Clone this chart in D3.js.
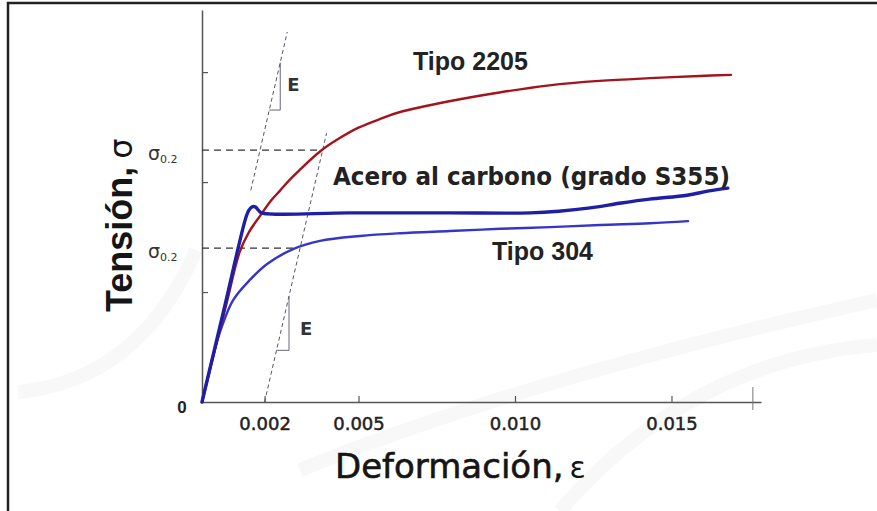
<!DOCTYPE html>
<html>
<head>
<meta charset="utf-8">
<script src="https://cdn.jsdelivr.net/npm/d3@7"></script>
<style>
  body { margin: 0; background: #fff; }
  svg { display: block; }
</style>
</head>
<body>
<div class="chart"></div>
<script>
// stress-strain curves, strain (-) and stress (MPa)
const strain2205 = [0, 0.0004, 0.0008, 0.0012, 0.0015, 0.00185, 0.0022, 0.0025, 0.0028, 0.0031, 0.0038, 0.0044, 0.005, 0.0057, 0.0063, 0.0079, 0.0095, 0.0111, 0.0127, 0.0143, 0.0159, 0.0169];
const stress2205 = [0, 92, 183, 272, 309, 338, 366, 385, 404, 421, 457, 480, 499, 515, 527, 547, 563, 576, 584, 589, 593, 595];

const strainS355 = [0, 0.0007, 0.0014, 0.0015, 0.0016, 0.0017, 0.0018, 0.0019, 0.0047, 0.0079, 0.0105, 0.0114, 0.0124, 0.0134, 0.0143, 0.0155, 0.0162, 0.0168];
const stressS355 = [0, 168, 335, 349, 355, 355, 349, 344, 344, 344, 344, 347, 353, 362, 369, 376, 384, 389];

const strain304 = [0, 0.0004, 0.00064, 0.00099, 0.00153, 0.00208, 0.00291, 0.00377, 0.00505, 0.00633, 0.00792, 0.00952, 0.01112, 0.01272, 0.01431, 0.01553];
const stress304 = [0, 94, 138, 185, 222, 251, 278, 293, 302, 307, 311, 315, 318, 322, 325, 329];

const xTicks = [0.002, 0.005, 0.010, 0.015];
const xTickLabels = ["0.002", "0.005", "0.010", "0.015"];
const yTicks = [200, 400, 600];
const proofStress = [458, 280];   // sigma 0.2 of 2205 and 304
const modulus = 247000;           // slope of the construction lines
const offsetStrain = 0.002;

const w = 877, h = 511;

const svg = d3.select(".chart").append("svg")
  .attr("width", w).attr("height", h);

// frame (only top and left edges show)
svg.append("path")
  .attr("d", "M8,511 L8,3 L877,3")
  .attr("fill", "none").attr("stroke", "#222").attr("stroke-width", 2.5);

// very faint watermark swooshes
const swoosh = [
  "M18,392 Q140,380 196,250",
  "M560,511 Q690,360 877,345",
  "M300,470 Q520,380 877,300"
];
svg.selectAll("path.swoosh").data(swoosh).enter().append("path")
  .attr("class", "swoosh").attr("d", d => d)
  .attr("fill", "none").attr("stroke", "#f8f8f8").attr("stroke-width", 14);

const xScale = d3.scaleLinear().domain([0, 0.01786]).range([202, 761]);
const yScale = d3.scaleLinear().domain([0, 713]).range([402, 10]);

// axes
const xAxis = d3.axisBottom(xScale)
  .tickValues(xTicks)
  .tickFormat((d, i) => xTickLabels[i])
  .tickSizeInner(-6).tickSizeOuter(0).tickPadding(15);

const gx = svg.append("g")
  .attr("transform", "translate(0," + yScale(0) + ")")
  .call(xAxis);
gx.select(".domain").attr("stroke", "#555").attr("stroke-width", 1.5);
gx.selectAll(".tick line").attr("stroke", "#555").attr("stroke-width", 1.2);
gx.selectAll(".tick text")
  .attr("font-family", "DejaVu Sans").attr("font-size", 18)
  .attr("fill", "#222").attr("stroke", "#222").attr("stroke-width", 0.5);

// cross tick at the end of the strain axis
svg.append("line")
  .attr("x1", xScale(0.0176)).attr("x2", xScale(0.0176))
  .attr("y1", yScale(0) - 15).attr("y2", yScale(0) + 8)
  .attr("stroke", "#777").attr("stroke-width", 1);

const yAxis = d3.axisLeft(yScale)
  .tickValues(yTicks)
  .tickFormat("")
  .tickSizeInner(-6).tickSizeOuter(0);

const gy = svg.append("g")
  .attr("transform", "translate(" + xScale(0) + ",0)")
  .call(yAxis);
gy.select(".domain").attr("stroke", "#555").attr("stroke-width", 1.5);
gy.selectAll(".tick line").attr("stroke", "#555").attr("stroke-width", 1.2);

svg.append("text")
  .attr("x", 182).attr("y", 413)
  .attr("text-anchor", "middle")
  .attr("font-family", "Liberation Sans").attr("font-weight", "bold")
  .attr("font-size", 17).attr("fill", "#222")
  .text("0");

// strain where a curve reaches a stress level
function strainAt(strains, stresses, s) {
  for (let i = 1; i < stresses.length; i++) {
    if (stresses[i] >= s) {
      const t = (s - stresses[i - 1]) / (stresses[i] - stresses[i - 1]);
      return strains[i - 1] + t * (strains[i] - strains[i - 1]);
    }
  }
  return strains[strains.length - 1];
}

// sigma 0.2 dashed levels
const proofEnd = [strainAt(strain2205, stress2205, proofStress[0]),
                  strainAt(strain304, stress304, proofStress[1])];
proofStress.forEach((s, i) => {
  svg.append("line")
    .attr("x1", xScale(0)).attr("x2", xScale(proofEnd[i]))
    .attr("y1", yScale(s)).attr("y2", yScale(s))
    .attr("stroke", "#333").attr("stroke-width", 1.2)
    .attr("stroke-dasharray", "7,5");

  const lab = svg.append("text")
    .attr("x", 148).attr("y", yScale(s) + 10)
    .attr("font-family", "DejaVu Sans").attr("fill", "#333");
  lab.append("tspan").attr("font-size", 19).text("σ");
  lab.append("tspan").attr("font-size", 11).attr("dy", 3).text("0.2");
});

// construction lines with slope E
const thin = { stroke: "#556", width: 1, dash: "4,3" };
const elastic = [[385 / modulus, 385], [673 / modulus, 673]];
const offset = [[offsetStrain, 0], [offsetStrain + 489 / modulus, 489]];
const seg = d3.line().x(d => xScale(d[0])).y(d => yScale(d[1]));

[elastic, offset].forEach(pts => {
  svg.append("path").attr("d", seg(pts))
    .attr("fill", "none").attr("stroke", thin.stroke)
    .attr("stroke-width", thin.width).attr("stroke-dasharray", thin.dash);
});

// slope triangles
const tri1 = [[531 / modulus, 531], [0.0025, 531], [0.0025, 0.0025 * modulus]];
const e2 = 0.00278;
const tri2 = [[offsetStrain + 94 / modulus, 94], [e2, 94], [e2, (e2 - offsetStrain) * modulus]];
[tri1, tri2].forEach(pts => {
  svg.append("path").attr("d", seg(pts))
    .attr("fill", "none").attr("stroke", "#667").attr("stroke-width", 1);
});

svg.append("text").attr("x", xScale(0.0025) + 7).attr("y", yScale(565))
  .attr("font-family", "DejaVu Sans").attr("font-size", 18).attr("font-weight", "bold")
  .attr("fill", "#333").text("E");
svg.append("text").attr("x", xScale(e2) + 11).attr("y", yScale(122))
  .attr("font-family", "DejaVu Sans").attr("font-size", 18).attr("font-weight", "bold")
  .attr("fill", "#333").text("E");

// curves
const curve = d3.line()
  .x(d => xScale(d[0])).y(d => yScale(d[1]))
  .curve(d3.curveCatmullRom.alpha(0.5));

const series = [
  { x: strain304, y: stress304, color: "#3535c8", width: 2.4 },
  { x: strain2205, y: stress2205, color: "#a3141c", width: 2.4 },
  { x: strainS355, y: stressS355, color: "#1f1fa5", width: 3.4 }
];
series.forEach(s => {
  svg.append("path")
    .datum(d3.zip(s.x, s.y))
    .attr("d", curve)
    .attr("fill", "none")
    .attr("stroke", s.color)
    .attr("stroke-width", s.width)
    .attr("stroke-linejoin", "round")
    .attr("stroke-linecap", "round");
});

// curve labels
svg.append("text").attr("x", 413).attr("y", 70)
  .attr("font-family", "Liberation Sans").attr("font-weight", "bold")
  .attr("font-size", 25).attr("fill", "#222").text("Tipo 2205");
svg.append("text").attr("x", 492).attr("y", 260)
  .attr("font-family", "Liberation Sans").attr("font-weight", "bold")
  .attr("font-size", 25).attr("fill", "#222").text("Tipo 304");
svg.append("text").attr("x", 333).attr("y", 185)
  .attr("font-family", "DejaVu Sans").attr("font-weight", "bold")
  .attr("font-size", 24).attr("fill", "#222")
  .attr("textLength", 397).attr("lengthAdjust", "spacingAndGlyphs")
  .text("Acero al carbono (grado S355)");

// axis titles
const xt = svg.append("text").attr("x", 335).attr("y", 478)
  .attr("font-family", "DejaVu Sans").attr("font-size", 34)
  .attr("fill", "#151515").attr("stroke", "#151515").attr("stroke-width", 0.6);
xt.append("tspan").text("Deformación,");
xt.append("tspan").attr("font-size", 30).attr("stroke-width", 0).attr("dx", 6).text("ε");

const yt = svg.append("text")
  .attr("transform", "translate(132,312) rotate(-90)")
  .attr("font-family", "Liberation Sans").attr("font-size", 36)
  .attr("fill", "#151515");
yt.append("tspan").attr("font-weight", "bold").text("Tensión,");
yt.append("tspan").attr("font-family", "DejaVu Sans").attr("font-size", 32)
  .attr("dx", 8).text("σ");
</script>
</body>
</html>
